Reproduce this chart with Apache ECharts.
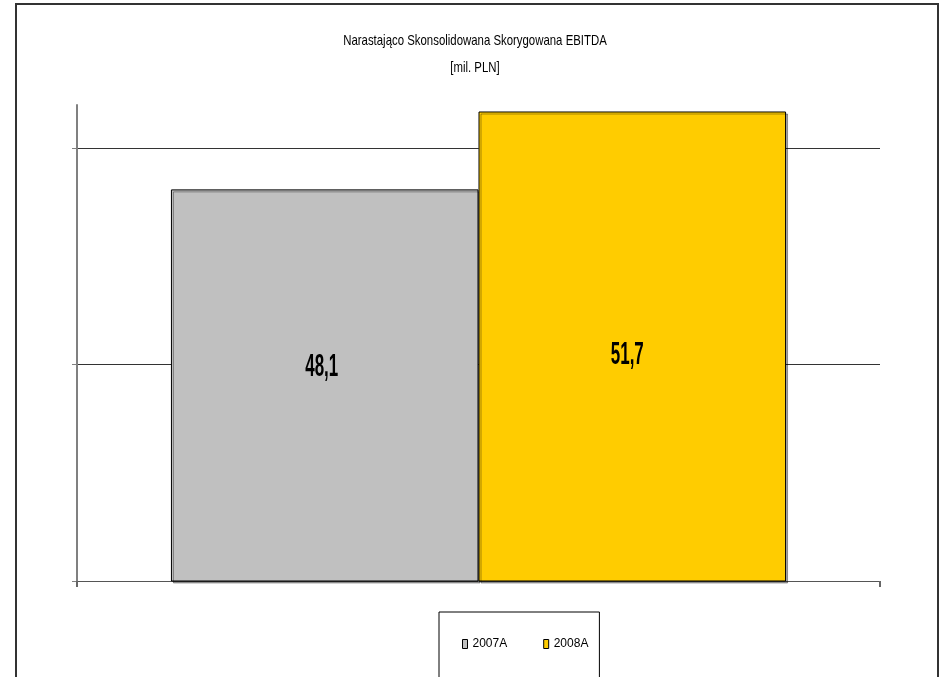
<!DOCTYPE html>
<html>
<head>
<meta charset="utf-8">
<title>EBITDA</title>
<script src="https://cdn.jsdelivr.net/npm/echarts@6/dist/echarts.min.js"></script>
<style>
  html, body { margin: 0; padding: 0; background: #fff; }
  #chart { width: 943px; height: 677px; }
</style>
</head>
<body>
<div id="chart"></div>
<script>
// Data
const categories = [''];
const seriesNames = ['2007A', '2008A'];
const values2007 = [48.1];
const values2008 = [51.7];
const seriesColors = ['#C0C0C0', '#FFCC00'];
const titleLines = ['Narastająco Skonsolidowana Skorygowana EBITDA', '[mil. PLN]'];
const axisTickValues = [30, 40, 50];

const sans = "'Liberation Sans', Arial, Helvetica, sans-serif";
const fmt = v => String(v).replace('.', ',');

const chart = echarts.init(document.getElementById('chart'), null, { renderer: 'canvas' });

function barSeries(name, data, color) {
  return {
    name: name,
    type: 'bar',
    data: data,
    barGap: '0%',
    barCategoryGap: '23.4%',
    itemStyle: {
      color: color,
      borderColor: '#000',
      borderWidth: 1,
      shadowColor: 'rgba(0,0,0,0.35)',
      shadowOffsetX: 2,
      shadowOffsetY: 2,
      shadowBlur: 0
    },
    label: { show: false },
    emphasis: { disabled: true }
  };
}

// Condensed text: drawn with a horizontal squeeze for the narrow Arial look
function squeezedText(id, text, x, y, size, weight, sx) {
  return {
    id: id,
    type: 'text',
    silent: true,
    x: x,
    y: y,
    scaleX: sx,
    z: 100,
    style: {
      text: text,
      x: 0,
      y: 0,
      align: 'center',
      verticalAlign: 'middle',
      font: weight + ' ' + size + 'px ' + sans,
      fill: '#000'
    }
  };
}

const frame = {
  id: 'frame',
  type: 'rect',
  silent: true,
  shape: { x: 16, y: 4, width: 922, height: 720 },
  style: { fill: null, stroke: '#333', lineWidth: 2 }
};

chart.setOption({
  animation: false,
  backgroundColor: '#fff',
  textStyle: { fontFamily: sans },
  graphic: [
    frame,
    squeezedText('title1', titleLines[0], 475, 41, 15, 'normal', 0.76),
    squeezedText('title2', titleLines[1], 475, 68, 15, 'normal', 0.76)
  ],
  legend: {
    data: seriesNames,
    left: 439,
    top: 612,
    orient: 'horizontal',
    icon: 'rect',
    itemWidth: 5,
    itemHeight: 9,
    itemGap: 36,
    padding: [26, 11, 60, 23],
    borderColor: '#000',
    borderWidth: 1,
    backgroundColor: '#fff',
    itemStyle: { borderColor: '#000', borderWidth: 1 },
    textStyle: { fontFamily: sans, fontSize: 12, color: '#000' },
    selectedMode: false
  },
  grid: { left: 77, right: 63, top: 105, bottom: 96, containLabel: false },
  xAxis: {
    type: 'category',
    data: categories,
    axisLine: { show: true, lineStyle: { color: '#555', width: 1 } },
    axisTick: { show: true, length: 6, lineStyle: { color: '#666', width: 2 } },
    axisLabel: { show: false },
    splitLine: { show: false }
  },
  yAxis: {
    type: 'value',
    min: 30,
    max: 52,
    interval: 10,
    axisLine: { show: true, lineStyle: { color: '#808080', width: 2 } },
    axisTick: {
      show: true,
      length: 5,
      customValues: axisTickValues,
      lineStyle: { color: '#808080', width: 1 }
    },
    axisLabel: { show: false },
    splitLine: {
      show: true,
      showMinLine: false,
      lineStyle: { color: '#333', width: 1 }
    }
  },
  series: [
    barSeries(seriesNames[0], values2007, seriesColors[0]),
    barSeries(seriesNames[1], values2008, seriesColors[1])
  ]
});

// Value labels inside each bar, centred on the visible part of the bar
const gridRect = chart.getModel().getComponent('grid').coordinateSystem.getRect();
const basePx = gridRect.y + gridRect.height;
const labelShift = [[-3, -18], [-5, 9]];
const labelEls = [];
[values2007, values2008].forEach((vals, si) => {
  const data = chart.getModel().getSeriesByIndex(si).getData();
  vals.forEach((v, i) => {
    const r = data.getItemLayout(i);
    const topPx = chart.convertToPixel({ yAxisIndex: 0 }, v);
    const cx = r.x + r.width / 2 + labelShift[si][0];
    const cy = (topPx + basePx) / 2 + labelShift[si][1];
    labelEls.push(squeezedText('val' + si + '_' + i, fmt(v), cx, cy, 32, 'bold', 0.53));
  });
});
chart.setOption({ graphic: labelEls });
</script>
</body>
</html>
